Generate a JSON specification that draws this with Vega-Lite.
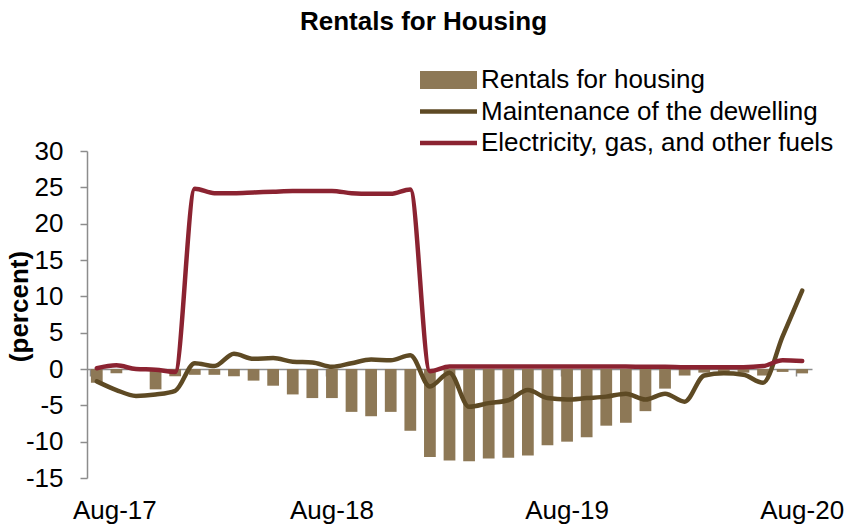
{
  "$schema": "https://vega.github.io/schema/vega-lite/v6.json",
  "width": 725,
  "height": 327,
  "autosize": {"type": "none"},
  "padding": {"left": 87, "top": 151, "right": 42, "bottom": 46},
  "background": "white",
  "config": {"font": "Liberation Sans", "view": {"stroke": null}, "axis": {"grid": false}},
  "title": {"text": "Rentals for Housing", "fontSize": 26, "fontWeight": "bold", "font": "Liberation Sans", "color": "black", "anchor": "middle", "frame": "group", "dx": -26, "offset": 32},
  "datasets": {
    "rent": [
      {"month": "Aug-17", "series": "Rentals for housing", "value": -1.9}, {"month": "Sep-17", "series": "Rentals for housing", "value": -0.6},
      {"month": "Oct-17", "series": "Rentals for housing", "value": -0.1}, {"month": "Nov-17", "series": "Rentals for housing", "value": -2.8},
      {"month": "Dec-17", "series": "Rentals for housing", "value": -1.0}, {"month": "Jan-18", "series": "Rentals for housing", "value": -0.8},
      {"month": "Feb-18", "series": "Rentals for housing", "value": -0.8}, {"month": "Mar-18", "series": "Rentals for housing", "value": -1.0},
      {"month": "Apr-18", "series": "Rentals for housing", "value": -1.6}, {"month": "May-18", "series": "Rentals for housing", "value": -2.3},
      {"month": "Jun-18", "series": "Rentals for housing", "value": -3.5}, {"month": "Jul-18", "series": "Rentals for housing", "value": -4.0},
      {"month": "Aug-18", "series": "Rentals for housing", "value": -4.0}, {"month": "Sep-18", "series": "Rentals for housing", "value": -5.9},
      {"month": "Oct-18", "series": "Rentals for housing", "value": -6.5}, {"month": "Nov-18", "series": "Rentals for housing", "value": -5.9},
      {"month": "Dec-18", "series": "Rentals for housing", "value": -8.5}, {"month": "Jan-19", "series": "Rentals for housing", "value": -12.1},
      {"month": "Feb-19", "series": "Rentals for housing", "value": -12.6}, {"month": "Mar-19", "series": "Rentals for housing", "value": -12.7},
      {"month": "Apr-19", "series": "Rentals for housing", "value": -12.3}, {"month": "May-19", "series": "Rentals for housing", "value": -12.2},
      {"month": "Jun-19", "series": "Rentals for housing", "value": -11.9}, {"month": "Jul-19", "series": "Rentals for housing", "value": -10.5},
      {"month": "Aug-19", "series": "Rentals for housing", "value": -10.0}, {"month": "Sep-19", "series": "Rentals for housing", "value": -9.4},
      {"month": "Oct-19", "series": "Rentals for housing", "value": -7.8}, {"month": "Nov-19", "series": "Rentals for housing", "value": -7.4},
      {"month": "Dec-19", "series": "Rentals for housing", "value": -5.8}, {"month": "Jan-20", "series": "Rentals for housing", "value": -2.7},
      {"month": "Feb-20", "series": "Rentals for housing", "value": -0.9}, {"month": "Mar-20", "series": "Rentals for housing", "value": -0.5},
      {"month": "Apr-20", "series": "Rentals for housing", "value": -0.4}, {"month": "May-20", "series": "Rentals for housing", "value": -0.5},
      {"month": "Jun-20", "series": "Rentals for housing", "value": -0.9}, {"month": "Jul-20", "series": "Rentals for housing", "value": -0.4},
      {"month": "Aug-20", "series": "Rentals for housing", "value": -0.6}
    ],
    "lines": [
      {"month": "Aug-17", "series": "Maintenance of the dewelling", "value": -1.7},
      {"month": "Sep-17", "series": "Maintenance of the dewelling", "value": -2.9},
      {"month": "Oct-17", "series": "Maintenance of the dewelling", "value": -3.7},
      {"month": "Nov-17", "series": "Maintenance of the dewelling", "value": -3.5},
      {"month": "Dec-17", "series": "Maintenance of the dewelling", "value": -3.0},
      {"month": "Jan-18", "series": "Maintenance of the dewelling", "value": 0.8},
      {"month": "Feb-18", "series": "Maintenance of the dewelling", "value": 0.4},
      {"month": "Mar-18", "series": "Maintenance of the dewelling", "value": 2.1},
      {"month": "Apr-18", "series": "Maintenance of the dewelling", "value": 1.4},
      {"month": "May-18", "series": "Maintenance of the dewelling", "value": 1.5},
      {"month": "Jun-18", "series": "Maintenance of the dewelling", "value": 1.0},
      {"month": "Jul-18", "series": "Maintenance of the dewelling", "value": 0.9},
      {"month": "Aug-18", "series": "Maintenance of the dewelling", "value": 0.3},
      {"month": "Sep-18", "series": "Maintenance of the dewelling", "value": 0.8},
      {"month": "Oct-18", "series": "Maintenance of the dewelling", "value": 1.3},
      {"month": "Nov-18", "series": "Maintenance of the dewelling", "value": 1.2},
      {"month": "Dec-18", "series": "Maintenance of the dewelling", "value": 1.9},
      {"month": "Jan-19", "series": "Maintenance of the dewelling", "value": -2.4},
      {"month": "Feb-19", "series": "Maintenance of the dewelling", "value": -0.5},
      {"month": "Mar-19", "series": "Maintenance of the dewelling", "value": -5.2},
      {"month": "Apr-19", "series": "Maintenance of the dewelling", "value": -4.7},
      {"month": "May-19", "series": "Maintenance of the dewelling", "value": -4.3},
      {"month": "Jun-19", "series": "Maintenance of the dewelling", "value": -2.9},
      {"month": "Jul-19", "series": "Maintenance of the dewelling", "value": -4.0},
      {"month": "Aug-19", "series": "Maintenance of the dewelling", "value": -4.2},
      {"month": "Sep-19", "series": "Maintenance of the dewelling", "value": -4.0},
      {"month": "Oct-19", "series": "Maintenance of the dewelling", "value": -3.8},
      {"month": "Nov-19", "series": "Maintenance of the dewelling", "value": -3.4},
      {"month": "Dec-19", "series": "Maintenance of the dewelling", "value": -4.2},
      {"month": "Jan-20", "series": "Maintenance of the dewelling", "value": -3.4},
      {"month": "Feb-20", "series": "Maintenance of the dewelling", "value": -4.5},
      {"month": "Mar-20", "series": "Maintenance of the dewelling", "value": -0.9},
      {"month": "Apr-20", "series": "Maintenance of the dewelling", "value": -0.6},
      {"month": "May-20", "series": "Maintenance of the dewelling", "value": -0.8},
      {"month": "Jun-20", "series": "Maintenance of the dewelling", "value": -1.9},
      {"month": "Jul-20", "series": "Maintenance of the dewelling", "value": 4.5},
      {"month": "Aug-20", "series": "Maintenance of the dewelling", "value": 10.8},
      {"month": "Aug-17", "series": "Electricity, gas, and other fuels", "value": 0.1},
      {"month": "Sep-17", "series": "Electricity, gas, and other fuels", "value": 0.5},
      {"month": "Oct-17", "series": "Electricity, gas, and other fuels", "value": 0.0},
      {"month": "Nov-17", "series": "Electricity, gas, and other fuels", "value": -0.1},
      {"month": "Dec-17", "series": "Electricity, gas, and other fuels", "value": -0.4},
      {"month": "Jan-18", "series": "Electricity, gas, and other fuels", "value": 24.8},
      {"month": "Feb-18", "series": "Electricity, gas, and other fuels", "value": 24.2},
      {"month": "Mar-18", "series": "Electricity, gas, and other fuels", "value": 24.2},
      {"month": "Apr-18", "series": "Electricity, gas, and other fuels", "value": 24.3},
      {"month": "May-18", "series": "Electricity, gas, and other fuels", "value": 24.4},
      {"month": "Jun-18", "series": "Electricity, gas, and other fuels", "value": 24.5},
      {"month": "Jul-18", "series": "Electricity, gas, and other fuels", "value": 24.5},
      {"month": "Aug-18", "series": "Electricity, gas, and other fuels", "value": 24.5},
      {"month": "Sep-18", "series": "Electricity, gas, and other fuels", "value": 24.2},
      {"month": "Oct-18", "series": "Electricity, gas, and other fuels", "value": 24.1},
      {"month": "Nov-18", "series": "Electricity, gas, and other fuels", "value": 24.1},
      {"month": "Dec-18", "series": "Electricity, gas, and other fuels", "value": 24.7},
      {"month": "Jan-19", "series": "Electricity, gas, and other fuels", "value": -0.3},
      {"month": "Feb-19", "series": "Electricity, gas, and other fuels", "value": 0.35},
      {"month": "Mar-19", "series": "Electricity, gas, and other fuels", "value": 0.35},
      {"month": "Apr-19", "series": "Electricity, gas, and other fuels", "value": 0.35},
      {"month": "May-19", "series": "Electricity, gas, and other fuels", "value": 0.35},
      {"month": "Jun-19", "series": "Electricity, gas, and other fuels", "value": 0.35},
      {"month": "Jul-19", "series": "Electricity, gas, and other fuels", "value": 0.35},
      {"month": "Aug-19", "series": "Electricity, gas, and other fuels", "value": 0.35},
      {"month": "Sep-19", "series": "Electricity, gas, and other fuels", "value": 0.35},
      {"month": "Oct-19", "series": "Electricity, gas, and other fuels", "value": 0.35},
      {"month": "Nov-19", "series": "Electricity, gas, and other fuels", "value": 0.35},
      {"month": "Dec-19", "series": "Electricity, gas, and other fuels", "value": 0.3},
      {"month": "Jan-20", "series": "Electricity, gas, and other fuels", "value": 0.3},
      {"month": "Feb-20", "series": "Electricity, gas, and other fuels", "value": 0.25},
      {"month": "Mar-20", "series": "Electricity, gas, and other fuels", "value": 0.25},
      {"month": "Apr-20", "series": "Electricity, gas, and other fuels", "value": 0.25},
      {"month": "May-20", "series": "Electricity, gas, and other fuels", "value": 0.25},
      {"month": "Jun-20", "series": "Electricity, gas, and other fuels", "value": 0.4},
      {"month": "Jul-20", "series": "Electricity, gas, and other fuels", "value": 1.2},
      {"month": "Aug-20", "series": "Electricity, gas, and other fuels", "value": 1.1}
    ]
  },
  "encoding": {
    "y": {
      "field": "value", "type": "quantitative",
      "scale": {"domain": [-15, 30], "nice": false, "zero": false},
      "axis": {
        "title": "(percent)", "titleFontSize": 26, "titleFontWeight": "bold", "titleColor": "black",
        "titleX": -59.5, "titleY": 155, "titleAngle": -90, "titleAlign": "center", "titleBaseline": "alphabetic",
        "values": [-15,-10,-5,0,5,10,15,20,25,30], "labelOverlap": false,
        "labelExpr": "'' + datum.value",
        "labelFontSize": 26, "labelColor": "black", "labelPadding": 17,
        "tickSize": 7, "tickColor": "#8c8c8c", "tickWidth": 1.5,
        "domainColor": "#8c8c8c", "domainWidth": 1.5
      }
    },
    "color": {
      "field": "series", "type": "nominal",
      "scale": {
        "domain": ["Rentals for housing", "Maintenance of the dewelling", "Electricity, gas, and other fuels"],
        "range": ["#8D7856", "#5E4A24", "#8B2331"]
      },
      "legend": {
        "orient": "none", "legendX": 333, "legendY": -84, "title": null,
        "labelFontSize": 26, "labelColor": "black", "labelLimit": 600, "labelOffset": 35,
        "symbolType": "square", "symbolSize": 676, "symbolStrokeWidth": 0, "rowPadding": 5.5, "padding": 0,
        "encode": {"symbols": {"update": {
          "shape": {"signal": "datum.value === 'Rentals for housing' ? 'M-1,-0.7L3.385,-0.7L3.385,0.7L-1,0.7Z' : 'M-1,-0.173L3.385,-0.173L3.385,0.173L-1,0.173Z'"},
          "fill": {"signal": "scale('color', datum.value)"},
          "stroke": {"value": "transparent"},
          "strokeWidth": {"value": 0},
          "size": {"value": 676},
          "opacity": {"value": 1}
        }}}
      }
    }
  },
  "layer": [
    {
      "data": {"name": "rent"},
      "mark": {"type": "bar"},
      "encoding": {
        "x": {
          "field": "month", "type": "nominal", "sort": null,
          "scale": {
            "domain": ["Aug-17","Sep-17","Oct-17","Nov-17","Dec-17","Jan-18","Feb-18","Mar-18","Apr-18","May-18","Jun-18","Jul-18","Aug-18","Sep-18","Oct-18","Nov-18","Dec-18","Jan-19","Feb-19","Mar-19","Apr-19","May-19","Jun-19","Jul-19","Aug-19","Sep-19","Oct-19","Nov-19","Dec-19","Jan-20","Feb-20","Mar-20","Apr-20","May-20","Jun-20","Jul-20","Aug-20"],
            "paddingInner": 0.4, "paddingOuter": 0.2
          },
          "axis": {
            "orient": "bottom", "title": null, "values": ["Aug-17","Aug-18","Aug-19","Aug-20"],
            "domain": false, "ticks": false, "labelAngle": 0, "labelFontSize": 26, "labelColor": "black",
            "labelPadding": 19, "labelOverlap": false,
            "labelOffset": {"condition": {"test": "datum.value === 'Aug-17'", "value": 18}, "value": 0}
          }
        }
      }
    },
    {
      "data": {"name": "lines"},
      "mark": {"type": "line", "interpolate": "monotone", "strokeWidth": 4.5, "strokeCap": "round", "strokeJoin": "round"},
      "encoding": {
        "x": {
          "field": "month", "type": "nominal", "sort": null,
          "axis": {
            "orient": "bottom", "offset": -109, "title": null, "labels": false,
            "domain": true, "domainColor": "#8c8c8c", "domainWidth": 1.5,
            "ticks": true, "tickSize": 7, "tickColor": "#8c8c8c", "tickWidth": 1.5,
            "values": ["Aug-17","Aug-18","Aug-19","Aug-20"], "bandPosition": 0
          }
        }
      }
    }
  ],
  "resolve": {"axis": {"x": "independent"}}
}
